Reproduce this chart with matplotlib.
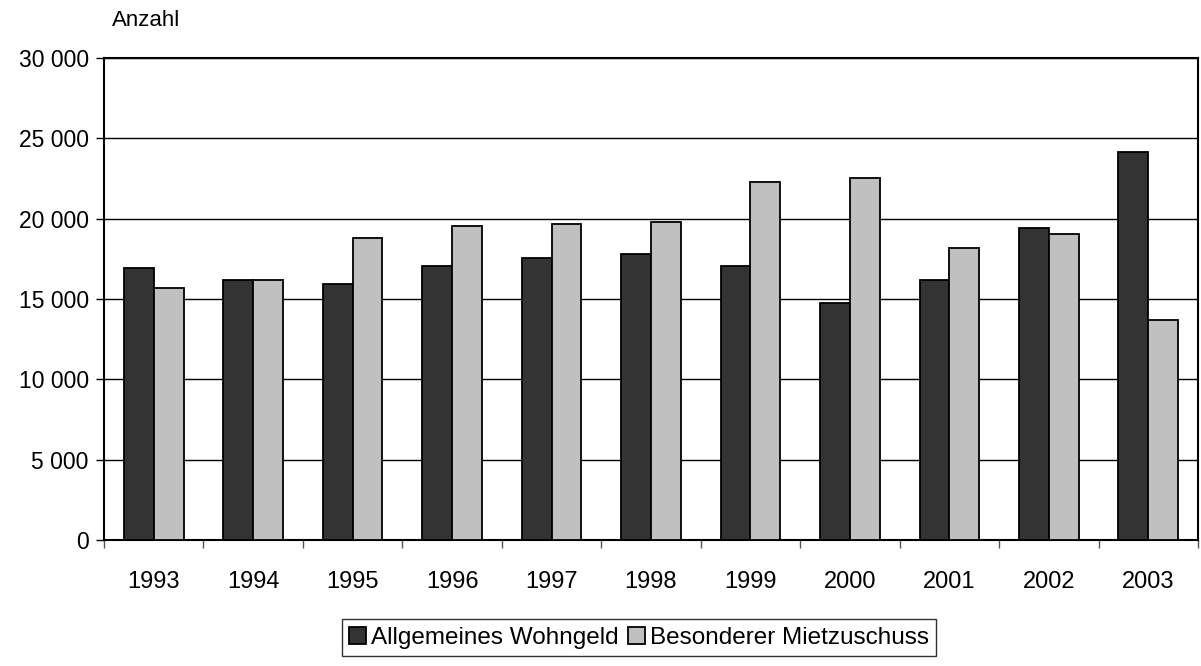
import matplotlib
matplotlib.use("Agg")
import matplotlib.pyplot as plt
import numpy as np
from matplotlib.ticker import FuncFormatter, FixedLocator

years = ["1993", "1994", "1995", "1996", "1997", "1998", "1999", "2000", "2001", "2002", "2003"]
wohngeld = [16950, 16180, 15930, 17050, 17570, 17820, 17050, 14730, 16180, 19420, 24140]
mietzuschuss = [15700, 16180, 18810, 19540, 19660, 19810, 22300, 22510, 18190, 19020, 13690]
series_names = ["Allgemeines Wohngeld", "Besonderer Mietzuschuss"]
y_ticks = [0, 5000, 10000, 15000, 20000, 25000, 30000]

plt.rcParams['font.family'] = ['Liberation Sans', 'DejaVu Sans']

fig = plt.figure(figsize=(12.01, 6.66), dpi=100)
ax = fig.add_axes([104/1201, 1 - 540/666, (1198-104)/1201, (540-58)/666])

x = np.arange(len(years))
w = 0.3
ax.bar(x - w/2, wohngeld, width=w, color='#333333', edgecolor='black', linewidth=1.3,
       label=series_names[0], zorder=3)
ax.bar(x + w/2, mietzuschuss, width=w, color='#c0c0c0', edgecolor='black', linewidth=1.3,
       label=series_names[1], zorder=3)

ax.set_xlim(-0.5, len(years) - 0.5)
ax.set_ylim(0, 30000)
ax.set_yticks(y_ticks)
ax.yaxis.set_major_formatter(FuncFormatter(lambda v, p: f"{int(v):,}".replace(",", " ")))
ax.yaxis.grid(True, color='black', linewidth=1.0, zorder=0)
ax.set_axisbelow(True)

ax.set_xticks(x)
ax.set_xticklabels(years)
ax.xaxis.set_minor_locator(FixedLocator(np.arange(-0.5, len(years), 1.0)))
ax.tick_params(axis='x', which='major', length=0, pad=22, labelsize=17)
ax.tick_params(axis='x', which='minor', length=6, width=1, color='#555555', direction='out')
ax.tick_params(axis='y', length=6, width=1, direction='out', labelsize=16.5, pad=5)

for s in ax.spines.values():
    s.set_linewidth(1.5)
    s.set_color('black')

fig.text(112/1201, 1 - 21/666, "Anzahl", fontsize=16, va='center', ha='left')

leg = fig.legend(loc='lower center', bbox_to_anchor=(639/1201, -0.003), ncol=2, frameon=True,
                 fontsize=17.5, handlelength=0.7, handleheight=0.7, handletextpad=0.2,
                 columnspacing=0.4, borderpad=0.3, fancybox=False, edgecolor='black')
leg.get_frame().set_linewidth(1.0)

fig.savefig("out.png", dpi=100)
